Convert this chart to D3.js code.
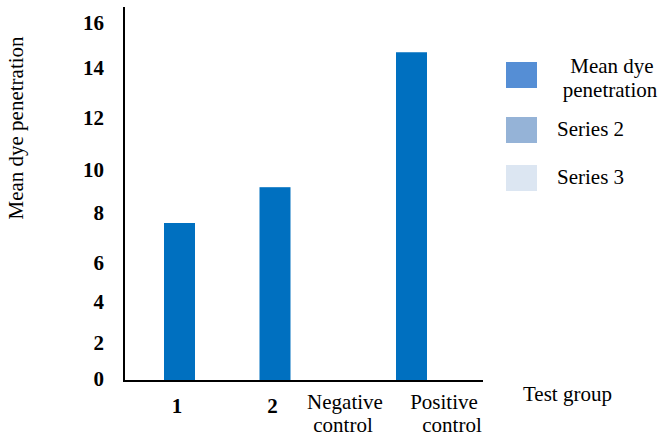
<!DOCTYPE html>
<html><head><meta charset="utf-8">
<script src="https://cdn.jsdelivr.net/npm/d3@7"></script>
<style>body{margin:0;background:#fff}svg{display:block}</style>
</head><body>
<script>
const categories = ["1", "2", "Negative control", "Positive control"];
const meanDye = [7.6, 9.2, 0, 14.7];
const yTicks = [0, 2, 4, 6, 8, 10, 12, 14, 16];
const legendSeries = ["Mean dye penetration", "Series 2", "Series 3"];
const legendColors = ["#558ed5", "#95b3d7", "#dce6f2"];
const barColor = "#0070c0";

const FONT = "'Liberation Serif', 'Times New Roman', Times, serif";
const W = 659, H = 439;
const svg = d3.select("body").append("svg").attr("width", W).attr("height", H)
  .style("font-family", FONT);

// y scale mirrors the uneven label spacing of the original
const y = d3.scaleLinear().domain(yTicks).range([381, 343, 302, 263, 213, 170, 118, 68, 23]);
const x = d3.scaleLinear().domain([0, 1, 2, 3]).range([179.5, 275, 343, 411.5]);
const barW = 31;

function txt(sel) { return sel.style("font-family", FONT).attr("fill", "#000").attr("font-size", 21); }

// bars
svg.selectAll("rect.bar").data(meanDye).join("rect")
  .attr("class", "bar")
  .attr("x", (d, i) => x(i) - barW / 2)
  .attr("width", barW)
  .attr("y", d => y(d))
  .attr("height", d => y(0) - y(d))
  .attr("fill", barColor);

// axes lines
svg.append("line").attr("x1", 124).attr("x2", 124).attr("y1", 7).attr("y2", 382)
  .attr("stroke", "#000").attr("stroke-width", 2);
svg.append("line").attr("x1", 123).attr("x2", 483).attr("y1", 381).attr("y2", 381)
  .attr("stroke", "#000").attr("stroke-width", 2);

// y tick labels
txt(svg.selectAll("text.yt").data(yTicks).join("text"))
  .attr("class", "yt")
  .attr("x", 104).attr("y", d => y(d) - (d === 0 ? 2 : 0))
  .attr("dy", "0.35em")
  .attr("text-anchor", "end")
  .attr("font-weight", "bold")
  .text(d => d);

// x labels
categories.forEach((c, i) => {
  const t = txt(svg.append("text")).attr("text-anchor", "middle");
  if (i < 2) {
    t.attr("x", x(i) - 2.5).attr("y", 413).attr("font-weight", "bold").text(c);
  } else {
    const parts = c.split(" ");
    const cx = i === 2 ? 345 : 444;
    t.append("tspan").attr("x", cx).attr("y", 409).text(parts[0]);
    t.append("tspan").attr("x", i === 2 ? 343 : 452).attr("y", 432).text(parts[1]);
  }
});

// y axis title
txt(svg.append("text")).attr("transform", "translate(23,128) rotate(-90)")
  .attr("text-anchor", "middle").text("Mean dye penetration");

// x axis title
txt(svg.append("text")).attr("x", 523).attr("y", 401).text("Test group");

// legend
const legY = [62, 117, 165];
legendSeries.forEach((s, i) => {
  svg.append("rect").attr("x", 506).attr("y", legY[i]).attr("width", 31).attr("height", 26)
    .attr("fill", legendColors[i]);
  if (i === 0) {
    const t = txt(svg.append("text")).attr("text-anchor", "middle");
    t.append("tspan").attr("x", 612).attr("y", 73).text("Mean dye");
    t.append("tspan").attr("x", 610).attr("y", 97).text("penetration");
  } else {
    txt(svg.append("text")).attr("x", 557).attr("y", legY[i] + 19).text(s);
  }
});
</script>
</body></html>
